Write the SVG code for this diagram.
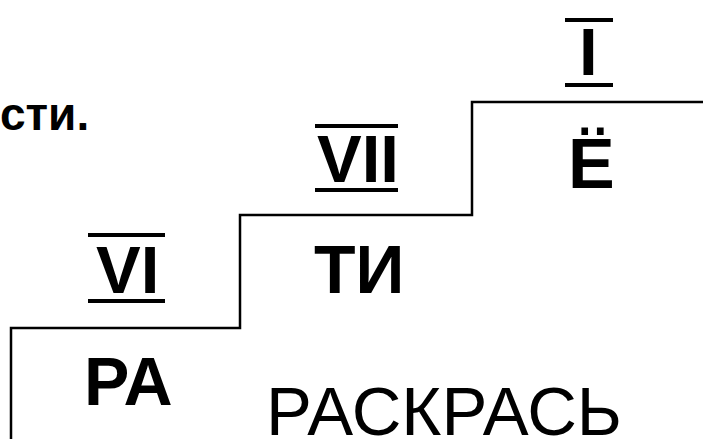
<svg xmlns="http://www.w3.org/2000/svg" width="703" height="439" viewBox="0 0 703 439">
  <style>
    .b { font-family: "Liberation Sans", Arial, sans-serif; font-weight: bold; fill: #000; }
    .r { font-family: "Liberation Sans", Arial, sans-serif; font-weight: normal; fill: #000; }
    .num { font-family: "Liberation Sans", Arial, sans-serif; font-weight: bold; fill: #000; font-size: 67px; }
    .bar { fill: #000; }
    .step { fill: none; stroke: #000; stroke-width: 2.5; }
  </style>
  <rect width="703" height="439" fill="#fff"/>
  <g id="connectors">
    <path class="step" d="M703,102 H472 V215 H240 V328 H11 V439"/>
  </g>
  <g id="sti">
    <text class="b" x="0" y="130" font-size="46">сти.</text>
  </g>
  <g id="num-I">
    <rect class="bar" x="565" y="18" width="48" height="4"/>
    <text class="num" x="579" y="75">I</text>
    <rect class="bar" x="565" y="83" width="48" height="4"/>
  </g>
  <g id="yo">
    <text class="b" x="568" y="188" font-size="70">Ё</text>
  </g>
  <g id="num-VII">
    <rect class="bar" x="315" y="124" width="83" height="4"/>
    <text class="num" x="317" y="182">VII</text>
    <rect class="bar" x="315" y="188" width="83" height="4"/>
  </g>
  <g id="ti">
    <text class="b" x="314" y="293" font-size="68">ТИ</text>
  </g>
  <g id="num-VI">
    <rect class="bar" x="88" y="233" width="77" height="4"/>
    <text class="num" x="96" y="293">VI</text>
    <rect class="bar" x="88" y="299" width="77" height="4"/>
  </g>
  <g id="ra">
    <text class="b" x="84" y="405" font-size="68">РА</text>
  </g>
  <g id="raskras">
    <text class="r" x="266" y="435" font-size="68" textLength="356" lengthAdjust="spacingAndGlyphs">РАСКРАСЬ</text>
  </g>
</svg>
